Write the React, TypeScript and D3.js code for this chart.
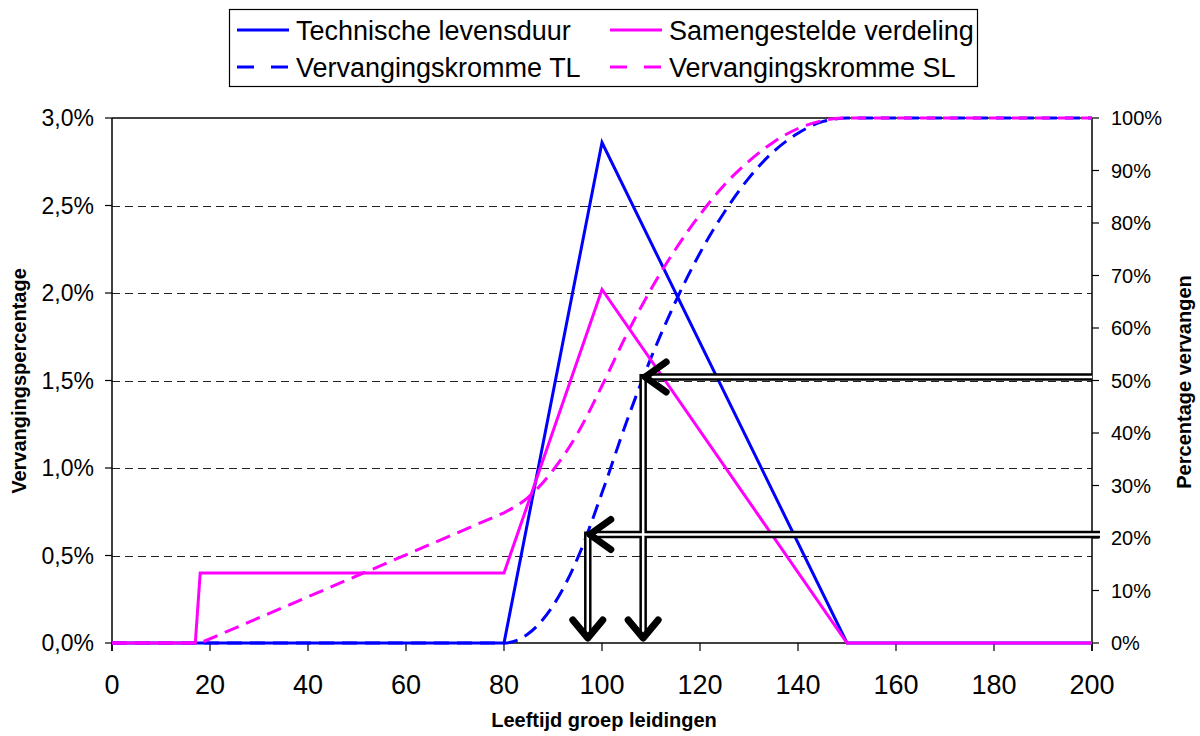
import React from "react";
import * as d3 from "d3";

// ---- Data ----
const ageTicks = [0, 20, 40, 60, 80, 100, 120, 140, 160, 180, 200];
const leftTicks = [0, 0.5, 1, 1.5, 2, 2.5, 3];
const leftTickLabels = ["0,0%", "0,5%", "1,0%", "1,5%", "2,0%", "2,5%", "3,0%"];
const rightTicks = [0, 10, 20, 30, 40, 50, 60, 70, 80, 90, 100];

// Technische levensduur (density, % per year, left axis)
const tlAges = [0, 80, 100, 150, 200];
const tlValues = [0, 0, 2.86, 0, 0];

// Samengestelde verdeling (density, left axis)
const slAges = [0, 17, 18, 80, 100, 150, 200];
const slValues = [0, 0, 0.4, 0.4, 2.02, 0, 0];

// Vervangingskromme TL (cumulative %, right axis)
const tlCumAges = [0, 80, 85, 90, 95, 100, 105, 110, 115, 120, 125, 130, 135, 140, 145, 150, 200];
const tlCumValues = [0, 0, 1.8, 7.1, 16.1, 28.6, 42.1, 54.3, 65.0, 74.3, 82.1, 88.6, 93.6, 97.1, 99.3, 100, 100];

// Vervangingskromme SL (cumulative %, right axis)
const slCumLinAges = [0, 18, 80];
const slCumLinValues = [0, 0, 24.8];
const slCumAges = [80, 85, 90, 95, 100, 105, 110, 115, 120, 125, 130, 135, 140, 145, 150, 200];
const slCumValues = [24.8, 27.8, 32.9, 39.9, 49.0, 58.7, 67.4, 75.0, 81.6, 87.3, 91.8, 95.4, 98.0, 99.5, 100, 100];

// Arrow annotations: replacement percentage and corresponding age
const arrowPcts = [50, 20];
const arrowAges = [108.4, 97.1];

const legendLabels = [
  "Technische levensduur",
  "Samengestelde verdeling",
  "Vervangingskromme TL",
  "Vervangingskromme SL",
];

const BLUE = "#0000FF";
const MAGENTA = "#FF00FF";
const FONT = "'Liberation Sans', Arial, Helvetica, sans-serif";

export default function App() {
  const W = 1200, H = 736;
  const L = 112, R = 1092, T = 118, B = 643;
  const x = d3.scaleLinear().domain([0, 200]).range([L, R]);
  const yL = d3.scaleLinear().domain([0, 3]).range([B, T]);
  const yR = d3.scaleLinear().domain([0, 100]).range([B, T]);

  const zip = (a: number[], b: number[]) => a.map((v, i) => [v, b[i]] as [number, number]);

  const lineL = d3.line<[number, number]>().x((d) => x(d[0])).y((d) => yL(d[1]));
  const lineRLin = d3.line<[number, number]>().x((d) => x(d[0])).y((d) => yR(d[1]));
  const lineRCurve = d3
    .line<[number, number]>()
    .x((d) => x(d[0]))
    .y((d) => yR(d[1]))
    .curve(d3.curveMonotoneX);

  const tlPath = lineL(zip(tlAges, tlValues)) || "";
  const slPath = lineL(zip(slAges, slValues)) || "";
  const tlCumPath = lineRCurve(zip(tlCumAges, tlCumValues)) || "";
  const slCumPath =
    (lineRLin(zip(slCumLinAges, slCumLinValues)) || "") +
    "L" +
    (lineRCurve(zip(slCumAges, slCumValues)) || "").slice(1);

  const dash = "15 8";

  const arrows = arrowPcts.map((p, i) => ({
    xa: x(arrowAges[i]),
    ya: yR(p) - 3.5,
    xEnd: i === 0 ? R : R + 8,
  }));
  const shaftBottom = 632;
  const tipY = 638;

  return (
    <svg
      width={W}
      height={H}
      style={{ position: "absolute", left: 0, top: 0, background: "#fff" }}
      fontFamily={FONT}
    >
      <rect x={0} y={0} width={W} height={H} fill="#fff" />

      {/* gridlines */}
      {leftTicks
        .filter((t) => t > 0 && t < 3)
        .map((t) => (
          <line
            key={"g" + t}
            x1={L}
            x2={R}
            y1={Math.round(yL(t)) + 0.5}
            y2={Math.round(yL(t)) + 0.5}
            stroke="#222"
            strokeWidth={1}
            strokeDasharray="8 5"
          />
        ))}
      {/* top border */}
      <line x1={L} x2={R} y1={T} y2={T} stroke="#000" strokeWidth={1.5} />

      {/* axes */}
      <line x1={L} x2={L} y1={T} y2={B + 8} stroke="#000" strokeWidth={1.5} />
      <line x1={R} x2={R} y1={T} y2={B + 8} stroke="#000" strokeWidth={1.5} />
      <line x1={L} x2={R} y1={B} y2={B} stroke="#000" strokeWidth={1.5} />

      {/* left ticks & labels */}
      {leftTicks.map((t, i) => (
        <g key={"l" + t}>
          <line x1={L - 7} x2={L} y1={yL(t)} y2={yL(t)} stroke="#000" strokeWidth={1.2} />
          <text x={94} y={yL(t)} dy="0.36em" textAnchor="end" fontSize={23} fill="#000">
            {leftTickLabels[i]}
          </text>
        </g>
      ))}

      {/* right ticks & labels */}
      {rightTicks.map((t) => (
        <g key={"r" + t}>
          <line x1={R} x2={R + 7} y1={yR(t)} y2={yR(t)} stroke="#000" strokeWidth={1.2} />
          <text x={1111} y={yR(t)} dy="0.36em" textAnchor="start" fontSize={20} fill="#000">
            {t + "%"}
          </text>
        </g>
      ))}

      {/* x ticks & labels */}
      {ageTicks.map((t) => (
        <g key={"x" + t}>
          <line x1={x(t)} x2={x(t)} y1={B} y2={B + 8} stroke="#000" strokeWidth={1.2} />
          <text x={x(t)} y={694} textAnchor="middle" fontSize={27} fill="#000">
            {t}
          </text>
        </g>
      ))}

      {/* axis titles */}
      <text
        transform={`translate(19,381) rotate(-90)`}
        textAnchor="middle"
        dy="0.35em"
        fontSize={20}
        fontWeight="bold"
        fill="#000"
      >
        Vervangingspercentage
      </text>
      <text
        transform={`translate(1184,382) rotate(-90)`}
        textAnchor="middle"
        dy="0.35em"
        fontSize={20}
        fontWeight="bold"
        fill="#000"
      >
        Percentage vervangen
      </text>
      <text x={604} y={727} textAnchor="middle" fontSize={20} fontWeight="bold" fill="#000">
        Leeftijd groep leidingen
      </text>

      {/* series */}
      <path d={tlPath} fill="none" stroke={BLUE} strokeWidth={3} strokeLinejoin="miter" />
      <path d={tlCumPath} fill="none" stroke={BLUE} strokeWidth={3} strokeDasharray={dash} />
      <path d={slPath} fill="none" stroke={MAGENTA} strokeWidth={3} strokeLinejoin="miter" />
      <path d={slCumPath} fill="none" stroke={MAGENTA} strokeWidth={3} strokeDasharray={dash} />

      {/* arrows */}
      {arrows.map((a, i) => (
        <g key={"ab" + i}>
          <line x1={a.xa + 1} x2={a.xEnd} y1={a.ya} y2={a.ya} stroke="#000" strokeWidth={7.5} />
          <line x1={a.xa} x2={a.xa} y1={a.ya - 3} y2={shaftBottom} stroke="#000" strokeWidth={7.5} />
        </g>
      ))}
      {arrows.map((a, i) => (
        <g key={"aw" + i}>
          <line x1={a.xa + 1} x2={a.xEnd} y1={a.ya} y2={a.ya} stroke="#fff" strokeWidth={2.5} />
          <line x1={a.xa} x2={a.xa} y1={a.ya} y2={shaftBottom} stroke="#fff" strokeWidth={2.5} />
        </g>
      ))}
      {arrows.map((a, i) => (
        <g key={"ah" + i} fill="none" stroke="#000" strokeWidth={7} strokeLinecap="round" strokeLinejoin="round">
          <path d={`M${a.xa + 23},${a.ya - 15} L${a.xa + 2},${a.ya} L${a.xa + 23},${a.ya + 15}`} />
          <path d={`M${a.xa - 15},${tipY - 18} L${a.xa},${tipY} L${a.xa + 15},${tipY - 18}`} />
        </g>
      ))}

      {/* legend */}
      <rect x={229.5} y={9.5} width={748} height={77} fill="#fff" stroke="#000" strokeWidth={1.2} />
      {legendLabels.map((lab, i) => {
        const col = i % 2;
        const row = Math.floor(i / 2);
        const lx = col === 0 ? 237 : 610;
        const ly = row === 0 ? 30 : 67;
        const color = col === 0 ? BLUE : MAGENTA;
        return (
          <g key={"lg" + i}>
            <line
              x1={lx}
              x2={lx + 52}
              y1={ly}
              y2={ly}
              stroke={color}
              strokeWidth={3}
              strokeDasharray={row === 1 ? "17 17" : undefined}
            />
            <text x={lx + 59} y={ly} dy="0.36em" fontSize={27} fill="#000">
              {lab}
            </text>
          </g>
        );
      })}
    </svg>
  );
}
